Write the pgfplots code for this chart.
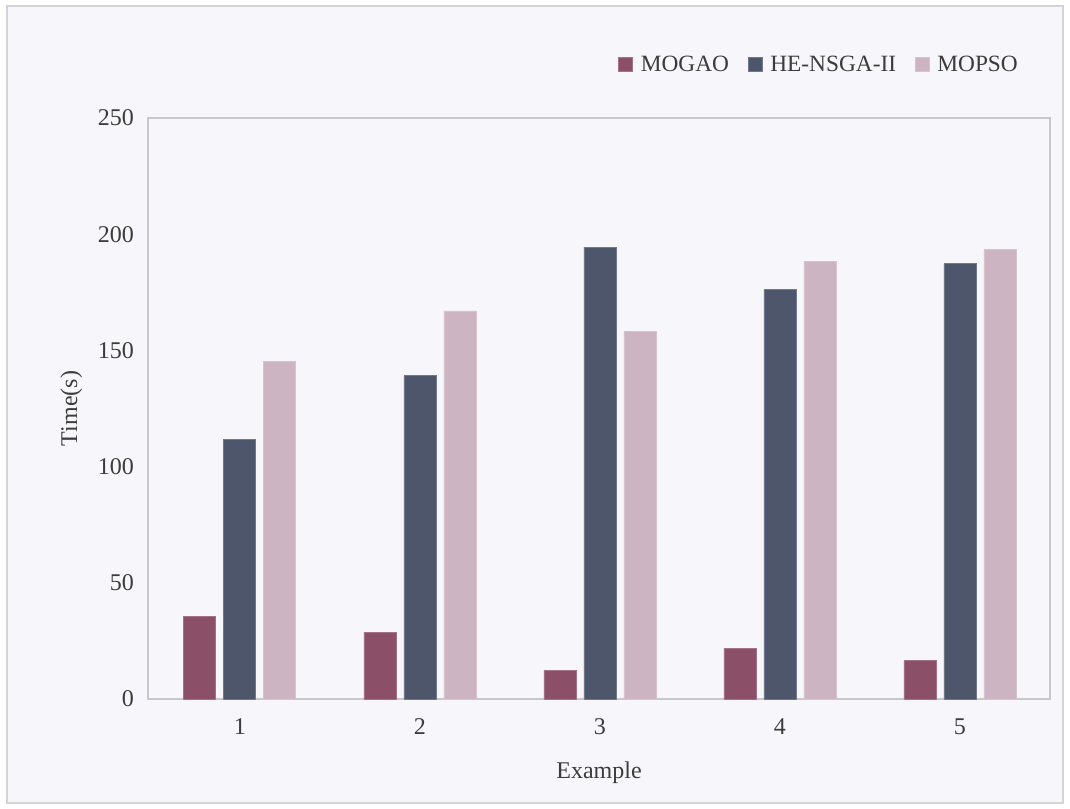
\documentclass[border=0pt]{standalone}
\usepackage{pgfplots}
\pgfplotsset{compat=1.18}
\usepackage{fontspec}
\setmainfont{Liberation Serif}
\definecolor{bgc}{HTML}{F7F6FA}
\definecolor{framec}{HTML}{D4D4D4}
\definecolor{axc}{HTML}{C8C8C8}
\definecolor{txt}{HTML}{3C3C3C}
\definecolor{cA}{HTML}{8B4F68}
\definecolor{cB}{HTML}{4E566C}
\definecolor{cC}{HTML}{CDB4C2}
\begin{document}
\begin{tikzpicture}
\useasboundingbox (0pt,0pt) rectangle (802.5pt,606pt);
\fill[white] (0pt,0pt) rectangle (802.5pt,606pt);
\filldraw[fill=bgc,draw=framec,line width=1.2pt] (5.25pt,3.75pt) rectangle (797.25pt,601.5pt);
\begin{axis}[
  at={(111pt,81.75pt)}, anchor=south west,
  scale only axis,
  width=676.5pt, height=435.75pt,
  ybar=6pt, bar width=24pt,
  xmin=0.49, xmax=5.5,
  ymin=0, ymax=250,
  xtick={1,2,3,4,5},
  ytick={0,50,100,150,200,250},
  major tick length=0pt,
  axis line style={draw=axc, line width=0.9pt},
  font=\fontsize{18}{21}\selectfont,
  tick label style={text=txt},
  /pgf/number format/assume math mode=true,
  xticklabel style={yshift=-11.5pt},
  yticklabel style={xshift=-7pt},
  xlabel={Example},
  ylabel={Time(s)},
  label style={text=txt},
  xlabel style={at={(axis description cs:0.5,-0.127)}, anchor=center},
  ylabel style={at={(axis description cs:-0.085,0.5)}, anchor=center, rotate=0},
  legend columns=3,
  legend style={draw=none, fill=none, at={(axis description cs:0.972,1.092)}, anchor=east,
    font=\fontsize{17.5}{21}\selectfont, text=txt,
    /tikz/every odd column/.append style={column sep=4pt},
    /tikz/every even column/.append style={column sep=12pt}},
  legend image code/.code={\fill[#1] (0pt,-5.25pt) rectangle (10.5pt,5.25pt);},
]
\addplot[fill=cA, draw=cA!80!white, line width=0.5pt] coordinates {(1,35.6) (2,28.7) (3,12.3) (4,21.8) (5,16.5)};
\addplot[fill=cB, draw=cB!80!white, line width=0.5pt] coordinates {(1,111.6) (2,139.1) (3,194.4) (4,176.1) (5,187.3)};
\addplot[fill=cC, draw=cC!80!white, line width=0.5pt] coordinates {(1,145.2) (2,167.0) (3,158.0) (4,188.2) (5,193.3)};
\legend{MOGAO,HE-NSGA-II,MOPSO}
\end{axis}
\end{tikzpicture}
\end{document}
